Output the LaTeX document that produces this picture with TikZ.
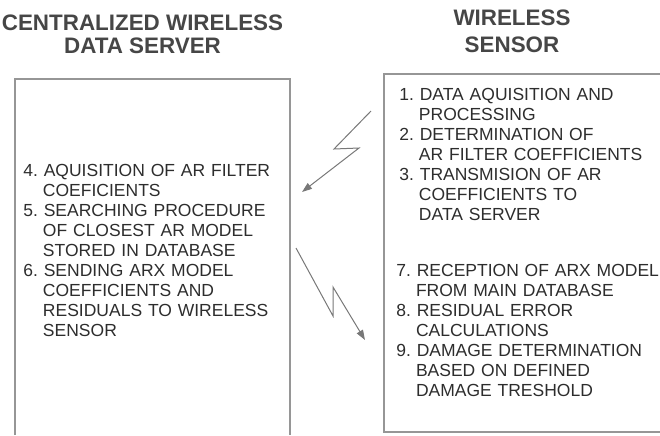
\documentclass[tikz,border=0pt]{standalone}
\usepackage{fontspec}
\setmainfont{Liberation Sans}
\usepackage{xcolor}
\usepackage{tikz}
\usetikzlibrary{arrows.meta}
\definecolor{myhead}{RGB}{70,70,70}
\definecolor{mytext}{RGB}{45,45,45}
\definecolor{myline}{RGB}{150,150,150}
\definecolor{mybolt}{RGB}{120,120,120}
% numbered step with hanging indent; \\ breaks the line inside the step
\newcommand{\stepitem}[2]{{\raggedright\let\\\newline
  \hangindent=1.12em\hangafter=1\noindent#1.\ #2\par}}
\tikzset{
  headline/.style={font=\bfseries\fontsize{11.2}{11.5}\selectfont, text=myhead,
    align=center, inner sep=0pt},
  steplist/.style={font=\fontsize{8.75}{10}\selectfont, text=mytext,
    text width=150pt, inner sep=0pt, anchor=north west},
  boxframe/.style={draw=myline, line width=0.6pt},
  bolt/.style={draw=mybolt, line width=0.5pt, line join=miter,
    -{Triangle[length=5pt, width=3.5pt]}}
}

\begin{document}
\begin{tikzpicture}[x=0.5pt, y=-0.5pt]
  \useasboundingbox (0,0) rectangle (660,435);
  % headings
  \node[headline] (srvtitle) at (142.5,34.5) {CENTRALIZED WIRELESS\\DATA SERVER};
  \node[headline, font=\bfseries\fontsize{11.2}{13.3}\selectfont] (sentitle)
    at (512,31.3) {WIRELESS\\SENSOR};
  % server frame (open at the bottom)
  \draw[boxframe] (15,435) -- (15,79) -- (290,79) -- (290,435);
  % sensor frame (open at the right)
  \draw[boxframe] (660,432) -- (384,432) -- (384,74) -- (660,74);
  % server steps
  \node[steplist] (srvsteps) at (23,164) {%
    \stepitem{4}{AQUISITION OF AR FILTER\\COEFICIENTS}
    \stepitem{5}{SEARCHING PROCEDURE\\OF CLOSEST AR MODEL\\STORED IN DATABASE}
    \stepitem{6}{SENDING ARX MODEL\\COEFFICIENTS AND\\RESIDUALS TO WIRELESS\\SENSOR}};
  % sensor steps
  \node[steplist] (sensteps) at (399,88) {%
    \stepitem{1}{DATA AQUISITION AND\\PROCESSING}
    \stepitem{2}{DETERMINATION OF\\AR FILTER COEFFICIENTS}
    \stepitem{3}{TRANSMISION OF AR\\COEFFICIENTS TO\\DATA SERVER}};
  \node[steplist] (senresult) at (396,264) {%
    \stepitem{7}{RECEPTION OF ARX MODEL\\FROM MAIN DATABASE}
    \stepitem{8}{RESIDUAL ERROR\\CALCULATIONS}
    \stepitem{9}{DAMAGE DETERMINATION\\BASED ON DEFINED\\DAMAGE TRESHOLD}};
  % wireless links
  \coordinate (upstart) at (371,111);
  \coordinate (upkinka) at (334,149);
  \coordinate (upkinkb) at (359,148);
  \coordinate (upend) at (302,192);
  \draw[bolt] (upstart) -- (upkinka) -- (upkinkb) -- (upend);
  \coordinate (dnstart) at (296,248);
  \coordinate (dnkinka) at (333,316);
  \coordinate (dnkinkb) at (333,287);
  \coordinate (dnend) at (365,340);
  \draw[bolt] (dnstart) -- (dnkinka) -- (dnkinkb) -- (dnend);
\end{tikzpicture}
\end{document}
